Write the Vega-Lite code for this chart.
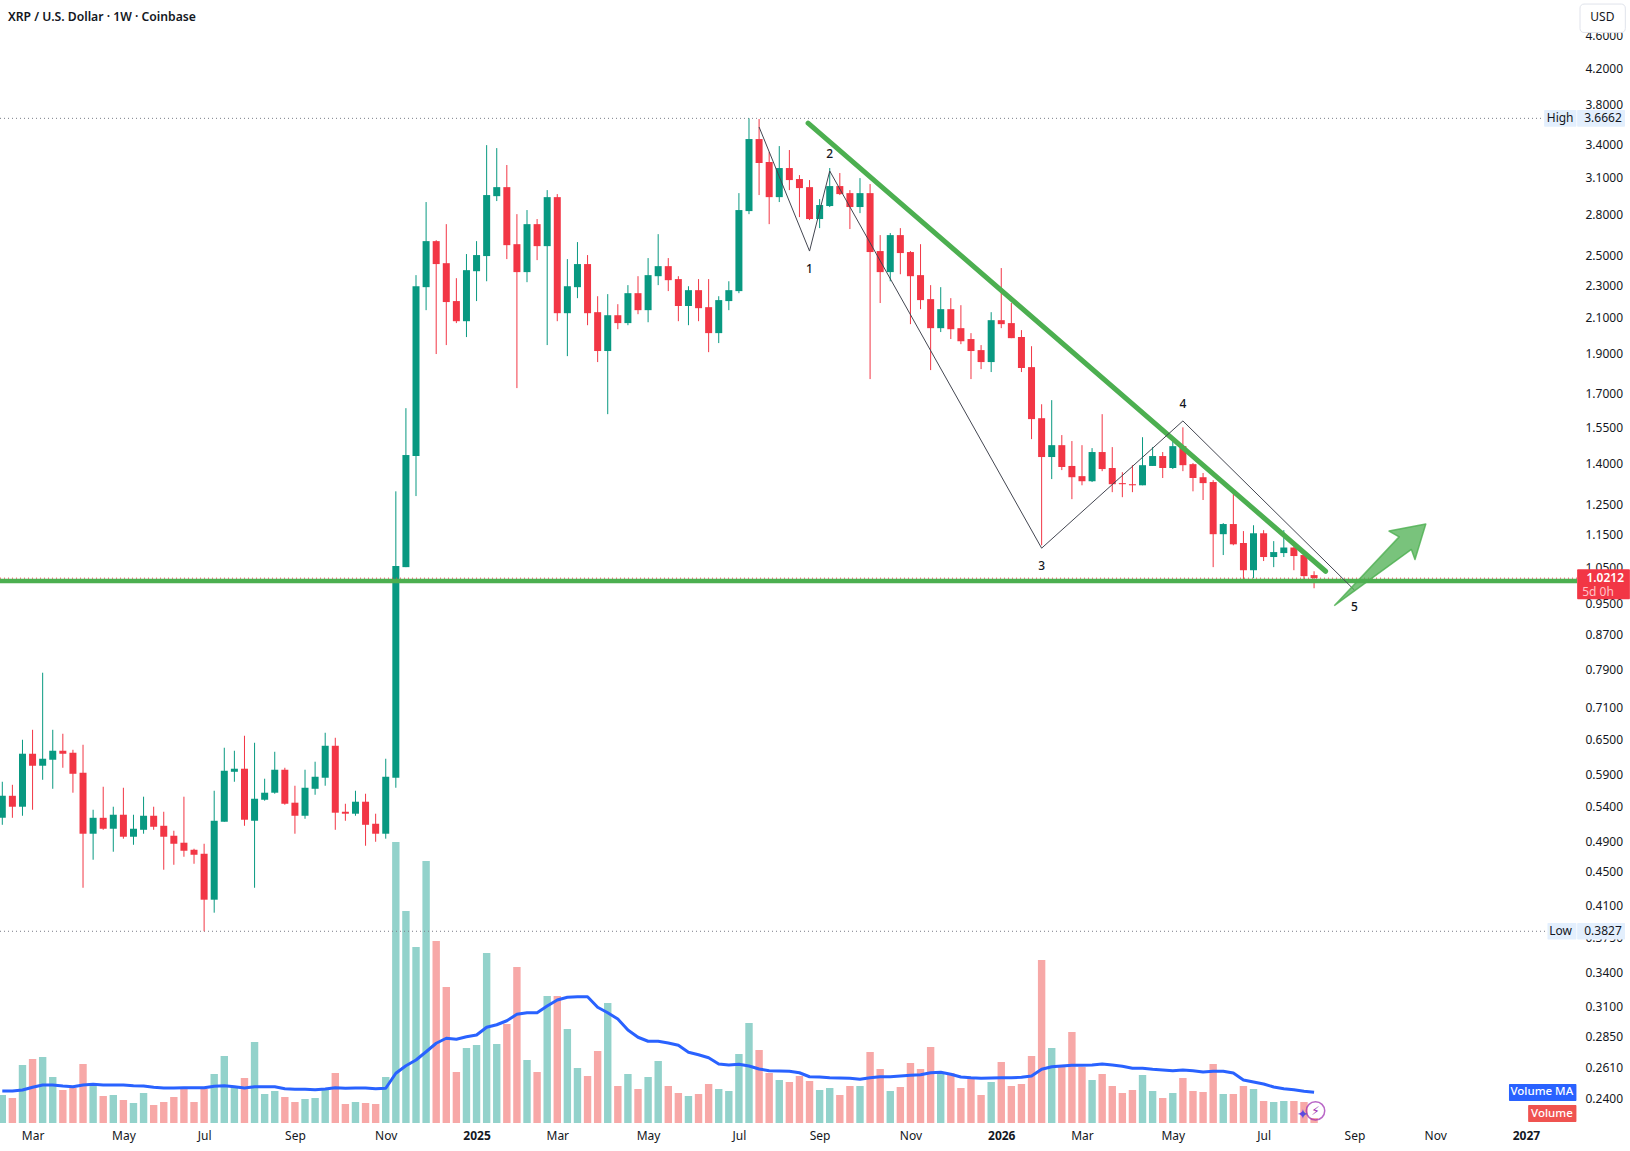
{
  "$schema": "https://vega.github.io/schema/vega-lite/v6.json",
  "width": 1577,
  "height": 1123,
  "autosize": "none",
  "padding": {"left": 0, "top": 0, "right": 53, "bottom": 28},
  "background": "#ffffff",
  "title": {"text": "XRP / U.S. Dollar · 1W · Coinbase", "anchor": "start", "frame": "group", "offset": -33, "dx": 8, "baseline": "alphabetic", "font": "Noto Sans", "fontSize": 12.2, "fontWeight": 600, "color": "#131722"},
  "config": {"view": {"stroke": null}, "font": "Noto Sans"},
  "data": {"values": [
    {"date":"2024-02-12","open":0.5246,"high":0.5799,"low":0.5145,"close":0.5577,"volume":112,"ma":128},
    {"date":"2024-02-19","open":0.5577,"high":0.5750,"low":0.5246,"close":0.5410,"volume":100,"ma":128},
    {"date":"2024-02-26","open":0.5410,"high":0.6517,"low":0.5276,"close":0.6269,"volume":232,"ma":132},
    {"date":"2024-03-04","open":0.6269,"high":0.6700,"low":0.5365,"close":0.6063,"volume":256,"ma":143},
    {"date":"2024-03-11","open":0.6063,"high":0.7852,"low":0.5831,"close":0.6182,"volume":264,"ma":152},
    {"date":"2024-03-18","open":0.6165,"high":0.6700,"low":0.5687,"close":0.6321,"volume":184,"ma":152},
    {"date":"2024-03-25","open":0.6321,"high":0.6627,"low":0.6029,"close":0.6269,"volume":132,"ma":148},
    {"date":"2024-04-01","open":0.6286,"high":0.6338,"low":0.5625,"close":0.5929,"volume":140,"ma":145},
    {"date":"2024-04-08","open":0.5946,"high":0.6427,"low":0.4319,"close":0.5019,"volume":236,"ma":152},
    {"date":"2024-04-15","open":0.5019,"high":0.5365,"low":0.4669,"close":0.5246,"volume":152,"ma":155},
    {"date":"2024-04-22","open":0.5246,"high":0.5719,"low":0.5074,"close":0.5089,"volume":108,"ma":152},
    {"date":"2024-04-29","open":0.5089,"high":0.5410,"low":0.4774,"close":0.5291,"volume":112,"ma":152},
    {"date":"2024-05-06","open":0.5291,"high":0.5703,"low":0.4950,"close":0.4977,"volume":92,"ma":152},
    {"date":"2024-05-13","open":0.4977,"high":0.5291,"low":0.4867,"close":0.5089,"volume":80,"ma":149},
    {"date":"2024-05-20","open":0.5074,"high":0.5563,"low":0.5019,"close":0.5276,"volume":120,"ma":148},
    {"date":"2024-05-27","open":0.5276,"high":0.5410,"low":0.5074,"close":0.5117,"volume":72,"ma":143},
    {"date":"2024-06-03","open":0.5131,"high":0.5335,"low":0.4541,"close":0.4977,"volume":84,"ma":140},
    {"date":"2024-06-10","open":0.4991,"high":0.5061,"low":0.4604,"close":0.4881,"volume":104,"ma":140},
    {"date":"2024-06-17","open":0.4895,"high":0.5563,"low":0.4708,"close":0.4787,"volume":136,"ma":141},
    {"date":"2024-06-24","open":0.4800,"high":0.4814,"low":0.4617,"close":0.4734,"volume":84,"ma":141},
    {"date":"2024-07-01","open":0.4747,"high":0.4881,"low":0.3827,"close":0.4178,"volume":136,"ma":141},
    {"date":"2024-07-08","open":0.4178,"high":0.5656,"low":0.4030,"close":0.5203,"volume":196,"ma":147},
    {"date":"2024-07-15","open":0.5189,"high":0.6374,"low":0.5189,"close":0.5979,"volume":268,"ma":149},
    {"date":"2024-07-22","open":0.5962,"high":0.6321,"low":0.5799,"close":0.6013,"volume":144,"ma":145},
    {"date":"2024-07-29","open":0.6013,"high":0.6590,"low":0.5131,"close":0.5218,"volume":180,"ma":140},
    {"date":"2024-08-05","open":0.5203,"high":0.6463,"low":0.4319,"close":0.5532,"volume":324,"ma":145},
    {"date":"2024-08-12","open":0.5516,"high":0.5848,"low":0.5501,"close":0.5625,"volume":116,"ma":145},
    {"date":"2024-08-19","open":0.5625,"high":0.6303,"low":0.5609,"close":0.5996,"volume":128,"ma":145},
    {"date":"2024-08-26","open":0.5996,"high":0.6029,"low":0.5440,"close":0.5455,"volume":104,"ma":137},
    {"date":"2024-09-02","open":0.5471,"high":0.5735,"low":0.5019,"close":0.5276,"volume":84,"ma":135},
    {"date":"2024-09-09","open":0.5276,"high":0.5996,"low":0.5232,"close":0.5703,"volume":96,"ma":135},
    {"date":"2024-09-16","open":0.5687,"high":0.6131,"low":0.5593,"close":0.5880,"volume":100,"ma":133},
    {"date":"2024-09-23","open":0.5864,"high":0.6645,"low":0.5735,"close":0.6409,"volume":132,"ma":136},
    {"date":"2024-09-30","open":0.6409,"high":0.6553,"low":0.5074,"close":0.5321,"volume":200,"ma":141},
    {"date":"2024-10-07","open":0.5335,"high":0.5455,"low":0.5203,"close":0.5306,"volume":76,"ma":139},
    {"date":"2024-10-14","open":0.5306,"high":0.5656,"low":0.5276,"close":0.5486,"volume":84,"ma":140},
    {"date":"2024-10-21","open":0.5486,"high":0.5609,"low":0.4854,"close":0.5145,"volume":80,"ma":140},
    {"date":"2024-10-28","open":0.5160,"high":0.5306,"low":0.4908,"close":0.5019,"volume":76,"ma":137},
    {"date":"2024-11-04","open":0.5019,"high":0.6182,"low":0.4950,"close":0.5880,"volume":184,"ma":139},
    {"date":"2024-11-11","open":0.5864,"high":1.300,"low":0.5703,"close":1.056,"volume":1124,"ma":199},
    {"date":"2024-11-18","open":1.053,"high":1.638,"low":1.053,"close":1.438,"volume":848,"ma":229},
    {"date":"2024-11-25","open":1.434,"high":2.371,"low":1.283,"close":2.299,"volume":704,"ma":252},
    {"date":"2024-12-02","open":2.293,"high":2.905,"low":2.151,"close":2.606,"volume":1048,"ma":285},
    {"date":"2024-12-09","open":2.606,"high":2.613,"low":1.904,"close":2.445,"volume":728,"ma":319},
    {"date":"2024-12-16","open":2.451,"high":2.732,"low":1.952,"close":2.200,"volume":544,"ma":339},
    {"date":"2024-12-23","open":2.206,"high":2.351,"low":2.075,"close":2.086,"volume":204,"ma":335},
    {"date":"2024-12-30","open":2.086,"high":2.514,"low":1.996,"close":2.404,"volume":300,"ma":345},
    {"date":"2025-01-06","open":2.397,"high":2.606,"low":2.206,"close":2.507,"volume":312,"ma":352},
    {"date":"2025-01-13","open":2.500,"high":3.403,"low":2.331,"close":2.962,"volume":680,"ma":383},
    {"date":"2025-01-20","open":2.953,"high":3.375,"low":2.913,"close":3.028,"volume":316,"ma":393},
    {"date":"2025-01-27","open":3.028,"high":3.220,"low":2.479,"close":2.577,"volume":396,"ma":409},
    {"date":"2025-02-03","open":2.584,"high":2.809,"low":1.732,"close":2.391,"volume":624,"ma":435},
    {"date":"2025-02-10","open":2.391,"high":2.841,"low":2.325,"close":2.732,"volume":252,"ma":441},
    {"date":"2025-02-17","open":2.732,"high":2.771,"low":2.472,"close":2.570,"volume":204,"ma":441},
    {"date":"2025-02-24","open":2.570,"high":3.003,"low":1.952,"close":2.945,"volume":508,"ma":468},
    {"date":"2025-03-03","open":2.945,"high":2.970,"low":2.086,"close":2.133,"volume":508,"ma":492},
    {"date":"2025-03-10","open":2.133,"high":2.479,"low":1.893,"close":2.299,"volume":376,"ma":503},
    {"date":"2025-03-17","open":2.293,"high":2.599,"low":2.224,"close":2.445,"volume":220,"ma":505},
    {"date":"2025-03-24","open":2.445,"high":2.507,"low":2.063,"close":2.133,"volume":188,"ma":505},
    {"date":"2025-03-31","open":2.139,"high":2.236,"low":1.862,"close":1.920,"volume":288,"ma":463},
    {"date":"2025-04-07","open":1.920,"high":2.249,"low":1.611,"close":2.121,"volume":480,"ma":441},
    {"date":"2025-04-14","open":2.121,"high":2.187,"low":2.040,"close":2.075,"volume":148,"ma":416},
    {"date":"2025-04-21","open":2.075,"high":2.306,"low":2.063,"close":2.255,"volume":196,"ma":372},
    {"date":"2025-04-28","open":2.255,"high":2.364,"low":2.127,"close":2.151,"volume":136,"ma":343},
    {"date":"2025-05-05","open":2.151,"high":2.486,"low":2.080,"close":2.371,"volume":184,"ma":327},
    {"date":"2025-05-12","open":2.364,"high":2.657,"low":2.306,"close":2.431,"volume":248,"ma":327},
    {"date":"2025-05-19","open":2.431,"high":2.486,"low":2.268,"close":2.338,"volume":148,"ma":320},
    {"date":"2025-05-26","open":2.345,"high":2.364,"low":2.086,"close":2.176,"volume":120,"ma":311},
    {"date":"2025-06-02","open":2.176,"high":2.299,"low":2.063,"close":2.274,"volume":108,"ma":283},
    {"date":"2025-06-09","open":2.274,"high":2.345,"low":2.086,"close":2.163,"volume":116,"ma":273},
    {"date":"2025-06-16","open":2.169,"high":2.345,"low":1.914,"close":2.018,"volume":156,"ma":261},
    {"date":"2025-06-23","open":2.018,"high":2.236,"low":1.963,"close":2.212,"volume":136,"ma":236},
    {"date":"2025-06-30","open":2.206,"high":2.331,"low":2.151,"close":2.274,"volume":128,"ma":232},
    {"date":"2025-07-07","open":2.268,"high":2.978,"low":2.255,"close":2.841,"volume":276,"ma":235},
    {"date":"2025-07-14","open":2.833,"high":3.6662,"low":2.809,"close":3.461,"volume":400,"ma":228},
    {"date":"2025-07-21","open":3.461,"high":3.659,"low":2.962,"close":3.238,"volume":292,"ma":216},
    {"date":"2025-07-28","open":3.247,"high":3.339,"low":2.732,"close":2.945,"volume":200,"ma":209},
    {"date":"2025-08-04","open":2.945,"high":3.394,"low":2.905,"close":3.193,"volume":172,"ma":208},
    {"date":"2025-08-11","open":3.193,"high":3.357,"low":3.003,"close":3.088,"volume":164,"ma":207},
    {"date":"2025-08-18","open":3.097,"high":3.131,"low":2.786,"close":3.020,"volume":188,"ma":201},
    {"date":"2025-08-25","open":3.028,"high":3.088,"low":2.763,"close":2.771,"volume":168,"ma":185},
    {"date":"2025-09-01","open":2.771,"high":2.929,"low":2.702,"close":2.881,"volume":132,"ma":184},
    {"date":"2025-09-08","open":2.873,"high":3.193,"low":2.865,"close":3.037,"volume":140,"ma":181},
    {"date":"2025-09-15","open":3.037,"high":3.149,"low":2.962,"close":2.970,"volume":112,"ma":180},
    {"date":"2025-09-22","open":2.978,"high":3.003,"low":2.695,"close":2.865,"volume":148,"ma":179},
    {"date":"2025-09-29","open":2.865,"high":3.105,"low":2.817,"close":2.978,"volume":148,"ma":175},
    {"date":"2025-10-06","open":2.978,"high":3.054,"low":1.776,"close":2.528,"volume":284,"ma":181},
    {"date":"2025-10-13","open":2.535,"high":2.650,"low":2.194,"close":2.391,"volume":216,"ma":185},
    {"date":"2025-10-20","open":2.391,"high":2.665,"low":2.331,"close":2.650,"volume":128,"ma":185},
    {"date":"2025-10-27","open":2.650,"high":2.702,"low":2.377,"close":2.521,"volume":144,"ma":188},
    {"date":"2025-11-03","open":2.528,"high":2.535,"low":2.069,"close":2.364,"volume":240,"ma":191},
    {"date":"2025-11-10","open":2.371,"high":2.584,"low":2.157,"close":2.212,"volume":216,"ma":193},
    {"date":"2025-11-17","open":2.218,"high":2.306,"low":1.821,"close":2.046,"volume":304,"ma":201},
    {"date":"2025-11-24","open":2.046,"high":2.293,"low":2.024,"close":2.157,"volume":200,"ma":203},
    {"date":"2025-12-01","open":2.157,"high":2.224,"low":1.985,"close":2.040,"volume":200,"ma":195},
    {"date":"2025-12-08","open":2.046,"high":2.181,"low":1.957,"close":1.973,"volume":140,"ma":184},
    {"date":"2025-12-15","open":1.985,"high":2.018,"low":1.776,"close":1.920,"volume":184,"ma":181},
    {"date":"2025-12-22","open":1.925,"high":1.952,"low":1.826,"close":1.862,"volume":112,"ma":179},
    {"date":"2025-12-29","open":1.862,"high":2.139,"low":1.811,"close":2.092,"volume":164,"ma":180},
    {"date":"2026-01-05","open":2.092,"high":2.418,"low":2.046,"close":2.069,"volume":244,"ma":181},
    {"date":"2026-01-12","open":2.075,"high":2.194,"low":1.990,"close":1.990,"volume":148,"ma":181},
    {"date":"2026-01-19","open":1.996,"high":2.035,"low":1.811,"close":1.831,"volume":156,"ma":183},
    {"date":"2026-01-26","open":1.836,"high":1.946,"low":1.503,"close":1.589,"volume":268,"ma":188},
    {"date":"2026-02-02","open":1.593,"high":1.656,"low":1.119,"close":1.430,"volume":652,"ma":215},
    {"date":"2026-02-09","open":1.430,"high":1.675,"low":1.345,"close":1.478,"volume":300,"ma":225},
    {"date":"2026-02-16","open":1.478,"high":1.520,"low":1.379,"close":1.391,"volume":224,"ma":228},
    {"date":"2026-02-23","open":1.395,"high":1.495,"low":1.272,"close":1.352,"volume":364,"ma":231},
    {"date":"2026-03-02","open":1.356,"high":1.478,"low":1.322,"close":1.337,"volume":224,"ma":231},
    {"date":"2026-03-09","open":1.337,"high":1.466,"low":1.334,"close":1.450,"volume":172,"ma":232},
    {"date":"2026-03-16","open":1.450,"high":1.611,"low":1.375,"close":1.383,"volume":196,"ma":236},
    {"date":"2026-03-23","open":1.387,"high":1.470,"low":1.297,"close":1.326,"volume":148,"ma":232},
    {"date":"2026-03-30","open":1.330,"high":1.371,"low":1.279,"close":1.326,"volume":120,"ma":227},
    {"date":"2026-04-06","open":1.326,"high":1.398,"low":1.297,"close":1.322,"volume":132,"ma":219},
    {"date":"2026-04-13","open":1.322,"high":1.511,"low":1.322,"close":1.398,"volume":192,"ma":219},
    {"date":"2026-04-20","open":1.395,"high":1.470,"low":1.395,"close":1.434,"volume":128,"ma":215},
    {"date":"2026-04-27","open":1.434,"high":1.450,"low":1.349,"close":1.387,"volume":100,"ma":212},
    {"date":"2026-05-04","open":1.387,"high":1.511,"low":1.383,"close":1.474,"volume":120,"ma":209},
    {"date":"2026-05-11","open":1.474,"high":1.553,"low":1.375,"close":1.398,"volume":180,"ma":212},
    {"date":"2026-05-18","open":1.402,"high":1.406,"low":1.300,"close":1.349,"volume":128,"ma":209},
    {"date":"2026-05-25","open":1.352,"high":1.368,"low":1.269,"close":1.330,"volume":124,"ma":204},
    {"date":"2026-06-01","open":1.334,"high":1.341,"low":1.053,"close":1.154,"volume":236,"ma":207},
    {"date":"2026-06-08","open":1.154,"high":1.190,"low":1.089,"close":1.187,"volume":116,"ma":207},
    {"date":"2026-06-15","open":1.187,"high":1.293,"low":1.119,"close":1.122,"volume":116,"ma":200},
    {"date":"2026-06-22","open":1.126,"high":1.164,"low":1.010,"close":1.044,"volume":148,"ma":172},
    {"date":"2026-06-29","open":1.044,"high":1.183,"low":1.021,"close":1.157,"volume":136,"ma":164},
    {"date":"2026-07-06","open":1.157,"high":1.167,"low":1.071,"close":1.083,"volume":88,"ma":156},
    {"date":"2026-07-13","open":1.083,"high":1.132,"low":1.053,"close":1.098,"volume":84,"ma":144},
    {"date":"2026-07-20","open":1.095,"high":1.167,"low":1.083,"close":1.112,"volume":88,"ma":137},
    {"date":"2026-07-27","open":1.112,"high":1.115,"low":1.044,"close":1.086,"volume":88,"ma":133},
    {"date":"2026-08-03","open":1.089,"high":1.089,"low":1.013,"close":1.027,"volume":84,"ma":127},
    {"date":"2026-08-10","open":1.030,"high":1.041,"low":0.993,"close":1.0212,"volume":20,"ma":123}
  ]},
  "encoding": {
    "x": {
      "field": "date",
      "type": "temporal",
      "title": null,
      "scale": {
        "type": "utc",
        "nice": false,
        "padding": 0,
        "domain": [
          {"year": 2024, "month": 2, "date": 10, "hours": 9, "minutes": 42, "utc": true},
          {"year": 2027, "month": 2, "date": 8, "hours": 9, "minutes": 36, "utc": true}
        ]
      },
      "axis": {
        "domain": false,
        "ticks": false,
        "grid": false,
        "labelPadding": 7,
        "labelFontSize": 12,
        "labelColor": "#131722",
        "labelOverlap": false,
        "labelFlush": false,
        "labelBound": false,
        "labelExpr": "utcmonth(datum.value)==0 ? utcFormat(datum.value,'%Y') : utcFormat(datum.value,'%b')",
        "labelFontWeight": {"condition": {"test": "utcmonth(datum.value)==0", "value": "bold"}, "value": "normal"},
        "values": [
          {"year":2024,"month":3,"date":4,"utc":true},{"year":2024,"month":5,"date":6,"utc":true},{"year":2024,"month":7,"date":1,"utc":true},{"year":2024,"month":9,"date":2,"utc":true},{"year":2024,"month":11,"date":4,"utc":true},
          {"year":2025,"month":1,"date":6,"utc":true},{"year":2025,"month":3,"date":3,"utc":true},{"year":2025,"month":5,"date":5,"utc":true},{"year":2025,"month":7,"date":7,"utc":true},{"year":2025,"month":9,"date":1,"utc":true},{"year":2025,"month":11,"date":3,"utc":true},
          {"year":2026,"month":1,"date":5,"utc":true},{"year":2026,"month":3,"date":2,"utc":true},{"year":2026,"month":5,"date":4,"utc":true},{"year":2026,"month":7,"date":6,"utc":true},{"year":2026,"month":9,"date":7,"utc":true},{"year":2026,"month":11,"date":2,"utc":true},
          {"year":2027,"month":1,"date":4,"utc":true}
        ]
      }
    }
  },
  "layer": [
    {
      "encoding": {
        "y": {"field": "volume", "type": "quantitative", "scale": {"domain": [0, 4492], "nice": false}, "axis": null}
      },
      "layer": [
        {
          "mark": {"type": "bar", "size": 7.4},
          "encoding": {
            "color": {"condition": {"test": "datum.close>=datum.open", "value": "#93d2cb"}, "value": "#f7a8a7"}
          }
        },
        {
          "mark": {"type": "line", "color": "#2962ff", "strokeWidth": 3, "strokeJoin": "round"},
          "encoding": {
            "y": {"field": "ma", "type": "quantitative", "scale": {"domain": [0, 4492], "nice": false}, "axis": null}
          }
        }
      ]
    },
    {
      "encoding": {
        "y": {
          "field": "price",
          "type": "quantitative",
          "title": null,
          "scale": {"type": "log", "domain": [0.2246, 5.094], "nice": false},
          "axis": {
            "orient": "right",
            "domain": false,
            "ticks": false,
            "grid": false,
            "format": ".4f",
            "labelPadding": 8,
            "labelOffset": -1,
            "labelFontSize": 12,
            "labelColor": "#131722",
            "labelOverlap": false,
            "labelBound": false,
            "labelFlush": false,
            "values": [4.6,4.2,3.8,3.4,3.1,2.8,2.5,2.3,2.1,1.9,1.7,1.55,1.4,1.25,1.15,1.05,0.95,0.87,0.79,0.71,0.65,0.59,0.54,0.49,0.45,0.41,0.375,0.34,0.31,0.285,0.261,0.24]
          }
        }
      },
      "layer": [
        {
          "data": {"values": [
            {"date":"2024-02-10T09:42:00Z","date2":"2027-01-16T00:00:00Z","price":3.6662},
            {"date":"2024-02-10T09:42:00Z","date2":"2027-01-18T00:00:00Z","price":0.3827}
          ]},
          "mark": {"type": "rule", "color": "#787b86", "strokeWidth": 1, "strokeDash": [1, 3]},
          "encoding": {"x2": {"field": "date2"}}
        },
        {
          "mark": {"type": "rule", "strokeWidth": 1},
          "encoding": {
            "y": {"field": "low", "type": "quantitative", "title": null, "scale": {"type": "log", "domain": [0.2246, 5.094], "nice": false}},
            "y2": {"field": "high"},
            "color": {"condition": {"test": "datum.close>=datum.open", "value": "#089981"}, "value": "#f23645"}
          }
        },
        {
          "mark": {"type": "bar", "size": 7},
          "encoding": {
            "y": {"field": "open", "type": "quantitative", "title": null, "scale": {"type": "log", "domain": [0.2246, 5.094], "nice": false}},
            "y2": {"field": "close"},
            "color": {"condition": {"test": "datum.close>=datum.open", "value": "#089981"}, "value": "#f23645"}
          }
        },
        {
          "data": {"values": [
            {"date":"2024-02-10T09:42:00Z","date2":"2027-02-08T09:36:00Z","price":1.0212}
          ]},
          "mark": {"type": "rule", "color": "#f23645", "strokeWidth": 1, "strokeDash": [1, 3]},
          "encoding": {"x2": {"field": "date2"}}
        },
        {
          "data": {"values": [
            {"date":"2024-02-10T09:42:00Z","date2":"2027-02-08T09:36:00Z","price":1.013}
          ]},
          "mark": {"type": "rule", "color": "#4caf50", "strokeWidth": 4.5},
          "encoding": {"x2": {"field": "date2"}}
        },
        {
          "data": {"values": [
            {"date":"2025-08-24","price":3.618},
            {"date":"2026-08-18","price":1.041}
          ]},
          "mark": {"type": "line", "color": "#4caf50", "strokeWidth": 5, "strokeCap": "round"}
        },
        {
          "data": {"values": [
            {"date":"2025-07-21","price":3.579},
            {"date":"2025-08-25","price":2.535},
            {"date":"2025-09-08","price":3.167},
            {"date":"2026-02-02","price":1.110},
            {"date":"2026-05-11","price":1.581},
            {"date":"2026-09-07","price":0.988}
          ]},
          "mark": {"type": "line", "color": "#434651", "strokeWidth": 1}
        },
        {
          "data": {"values": [
            {"date":"2026-08-24T00:00:00Z","price":0.9459,"seq":1},
            {"date":"2026-10-08T00:00:00Z","price":1.1454,"seq":2},
            {"date":"2026-10-01T00:00:00Z","price":1.164,"seq":3},
            {"date":"2026-10-26T12:00:00Z","price":1.187,"seq":4},
            {"date":"2026-10-19T00:00:00Z","price":1.0758,"seq":5},
            {"date":"2026-10-16T12:00:00Z","price":1.106,"seq":6},
            {"date":"2026-08-24T00:00:00Z","price":0.9459,"seq":7}
          ]},
          "mark": {"type": "line", "stroke": "#4caf50", "strokeWidth": 1.5, "strokeOpacity": 0.8, "fill": "#4caf50", "fillOpacity": 0.75, "strokeJoin": "round"},
          "encoding": {"order": {"field": "seq", "type": "quantitative"}}
        },
        {
          "data": {"values": [
            {"date":"2025-08-25","price":2.411,"label":"1"},
            {"date":"2025-09-08","price":3.320,"label":"2"},
            {"date":"2026-02-02","price":1.056,"label":"3"},
            {"date":"2026-05-11","price":1.656,"label":"4"},
            {"date":"2026-09-07","price":0.9424,"label":"5"}
          ]},
          "mark": {"type": "text", "fontSize": 12, "fontWeight": 500, "color": "#131722", "baseline": "middle"},
          "encoding": {"text": {"field": "label"}}
        },
        {
          "data": {"values": [
            {"date":"2027-01-16T14:00:00Z","date2":"2027-02-08T00:00:00Z","price":3.752,"price2":3.5816,"kind":"tag"},
            {"date":"2027-02-08T12:00:00Z","date2":"2027-03-13T17:00:00Z","price":3.752,"price2":3.5816,"kind":"tag"},
            {"date":"2027-01-18T22:00:00Z","date2":"2027-02-08T00:00:00Z","price":0.3916,"price2":0.3740,"kind":"tag"},
            {"date":"2027-02-08T12:00:00Z","date2":"2027-03-13T17:00:00Z","price":0.3916,"price2":0.3740,"kind":"tag"},
            {"date":"2027-02-08T12:00:00Z","date2":"2027-03-17T02:00:00Z","price":1.0471,"price2":0.9633,"kind":"last"},
            {"date":"2026-12-23T05:00:00Z","date2":"2027-02-08T00:00:00Z","price":0.2504,"price2":0.2387,"kind":"ma"},
            {"date":"2027-01-05T12:00:00Z","date2":"2027-02-08T00:00:00Z","price":0.2361,"price2":0.2253,"kind":"volume"}
          ]},
          "mark": {"type": "rect", "cornerRadius": 1},
          "encoding": {
            "x2": {"field": "date2"},
            "y2": {"field": "price2"},
            "color": {"field": "kind", "type": "nominal", "legend": null, "scale": {"domain": ["tag", "last", "ma", "volume"], "range": ["#e3effd", "#f23645", "#2962ff", "#ef5350"]}}
          }
        },
        {
          "data": {"values": [
            {"date":"2027-02-10T12:00:00Z","date2":"2027-03-13T22:00:00Z","price":5.037,"price2":4.653}
          ]},
          "mark": {"type": "rect", "cornerRadius": 4, "fill": "#ffffff", "stroke": "#e0e3eb", "strokeWidth": 1},
          "encoding": {"x2": {"field": "date2"}, "y2": {"field": "price2"}}
        },
        {
          "data": {"values": [
            {"date":"2027-01-27T17:00:00Z","price":3.6662,"label":"High"},
            {"date":"2027-02-26T10:00:00Z","price":3.6662,"label":"3.6662"},
            {"date":"2027-01-28T00:00:00Z","price":0.3827,"label":"Low"},
            {"date":"2027-02-26T10:00:00Z","price":0.3827,"label":"0.3827"},
            {"date":"2027-02-26T00:00:00Z","price":4.859,"label":"USD"}
          ]},
          "mark": {"type": "text", "fontSize": 12, "color": "#131722", "baseline": "middle"},
          "encoding": {"text": {"field": "label"}}
        },
        {
          "data": {"values": [
            {"date":"2027-02-28T00:00:00Z","price":1.0212,"label":"1.0212"}
          ]},
          "mark": {"type": "text", "fontSize": 12, "fontWeight": 600, "color": "#ffffff", "baseline": "middle"},
          "encoding": {"text": {"field": "label"}}
        },
        {
          "data": {"values": [
            {"date":"2027-01-15T00:00:00Z","price":0.2445,"label":"Volume MA"},
            {"date":"2027-01-22T00:00:00Z","price":0.2306,"label":"Volume"}
          ]},
          "mark": {"type": "text", "fontSize": 11.5, "fontWeight": 500, "color": "#ffffff", "baseline": "middle"},
          "encoding": {"text": {"field": "label"}}
        },
        {
          "data": {"values": [
            {"date":"2027-02-23T00:00:00Z","price":0.9822,"label":"5d 0h"}
          ]},
          "mark": {"type": "text", "fontSize": 12, "color": "#ffc2c8", "baseline": "middle"},
          "encoding": {"text": {"field": "label"}}
        },
        {
          "data": {"values": [
            {"date":"2026-08-11","price":0.2323}
          ]},
          "mark": {"type": "point", "shape": "circle", "size": 340, "filled": false, "color": "#9c27b0", "strokeWidth": 1.5}
        },
        {
          "data": {"values": [
            {"date":"2026-08-11","price":0.2323,"label":"⚡"}
          ]},
          "mark": {"type": "text", "font": "DejaVu Sans", "fontSize": 12, "color": "#9c27b0", "baseline": "middle"},
          "encoding": {"text": {"field": "label"}}
        },
        {
          "data": {"values": [
            {"date":"2026-08-02","price":0.2299,"label":"✦"}
          ]},
          "mark": {"type": "text", "font": "DejaVu Sans", "fontSize": 14, "color": "#5b4be0", "baseline": "middle"},
          "encoding": {"text": {"field": "label"}}
        }
      ]
    }
  ],
  "resolve": {"scale": {"y": "independent"}}
}
